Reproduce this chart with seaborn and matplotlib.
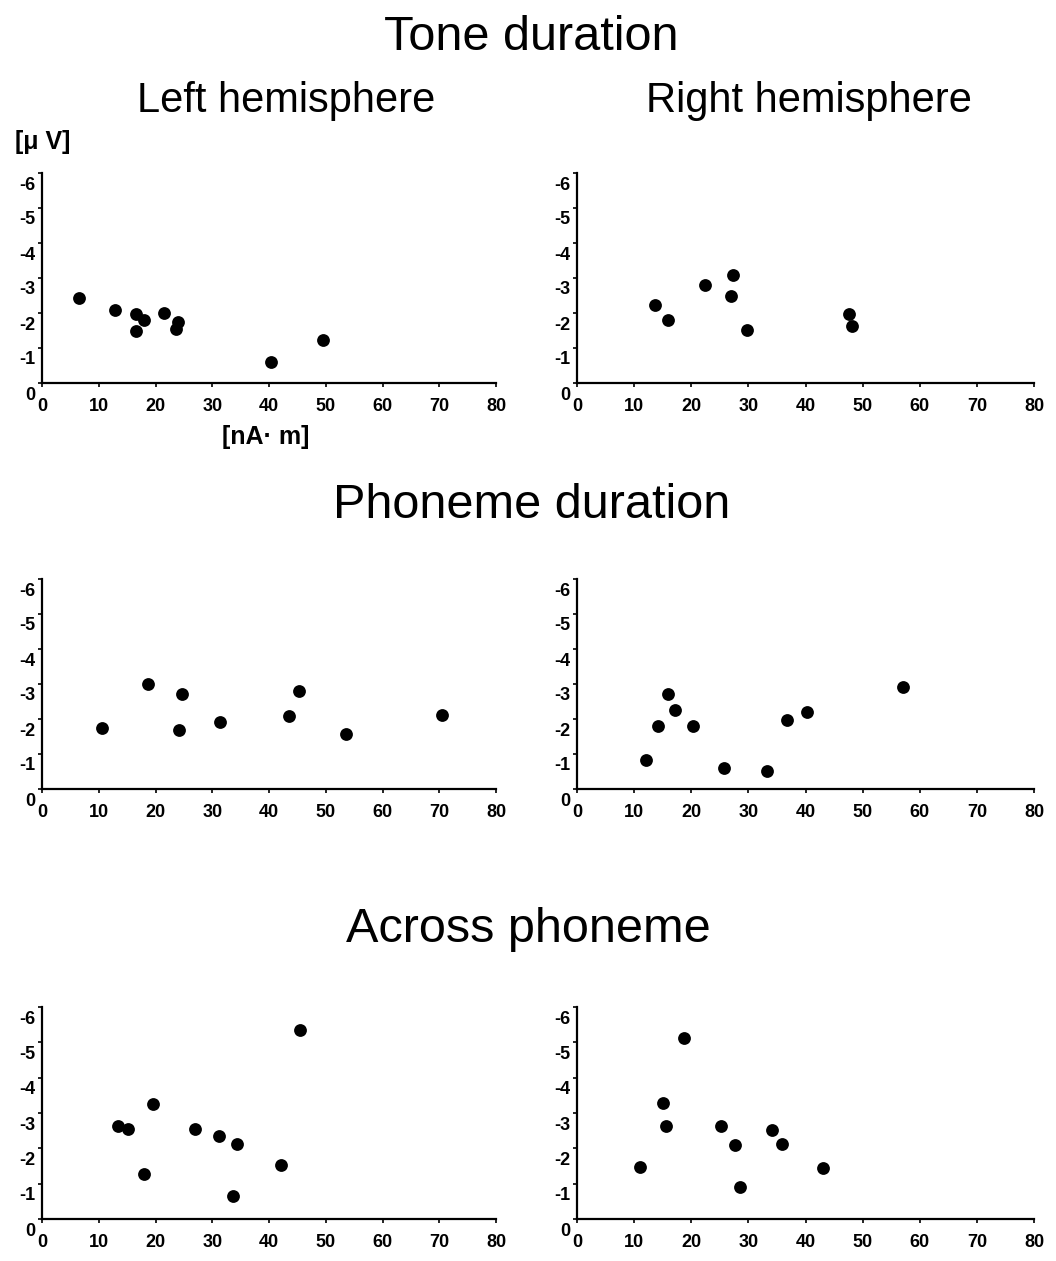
import pandas as pd
import numpy as np
import seaborn as sns
import matplotlib.pyplot as plt
from matplotlib.transforms import ScaledTranslation

# --- DATA ---
# x: dipole moment [nA·m], y: MMN amplitude [uV]
tone_left_x = [6.5, 12.9, 16.6, 17.9, 16.6, 21.5, 24.0, 23.6, 40.3, 49.5]
tone_left_y = [-2.43, -2.08, -1.98, -1.81, -1.50, -1.99, -1.73, -1.55, -0.59, -1.22]
tone_right_x = [13.7, 15.9, 22.4, 27.3, 27.0, 29.8, 47.6, 48.2]
tone_right_y = [-2.23, -1.81, -2.81, -3.10, -2.48, -1.51, -1.96, -1.62]

phon_left_x = [10.6, 18.7, 24.6, 24.2, 31.4, 43.5, 45.2, 53.5, 70.5]
phon_left_y = [-1.73, -2.99, -2.72, -1.70, -1.91, -2.09, -2.80, -1.56, -2.11]
phon_right_x = [12.1, 14.2, 16.0, 17.2, 20.3, 25.7, 33.2, 36.7, 40.2, 57.0]
phon_right_y = [-0.84, -1.79, -2.72, -2.26, -1.79, -0.61, -0.52, -1.96, -2.20, -2.92]

across_left_x = [13.4, 15.1, 17.9, 19.6, 27.0, 31.2, 33.6, 34.4, 42.2, 45.4]
across_left_y = [-2.62, -2.55, -1.27, -3.25, -2.55, -2.36, -0.65, -2.12, -1.52, -5.36]
across_right_x = [11.0, 15.0, 15.5, 18.7, 25.2, 27.7, 28.5, 34.1, 35.8, 43.0]
across_right_y = [-1.48, -3.29, -2.64, -5.11, -2.63, -2.10, -0.90, -2.52, -2.13, -1.43]

row_titles = ["Tone duration", "Phoneme duration", "Across phoneme"]
col_titles = ["Left hemisphere", "Right hemisphere"]
x_ticks = [0, 10, 20, 30, 40, 50, 60, 70, 80]
y_ticks = [0, -1, -2, -3, -4, -5, -6]

panels = [
    [(tone_left_x, tone_left_y), (tone_right_x, tone_right_y)],
    [(phon_left_x, phon_left_y), (phon_right_x, phon_right_y)],
    [(across_left_x, across_left_y), (across_right_x, across_right_y)],
]

# --- STYLE ---
sns.set_style("ticks")
plt.rcParams['font.family'] = ['Liberation Sans', 'DejaVu Sans']
plt.rcParams['axes.unicode_minus'] = False
plt.rcParams['text.color'] = 'black'

W, H = 1056, 1261
fig = plt.figure(figsize=(W / 100, H / 100), dpi=100)

# axes boxes in pixels: (left, right) per column, (top, bottom) per row
col_px = [(42, 496), (577, 1034)]
row_px = [(173, 383), (579, 789), (1007, 1219)]

for r, (top, bottom) in enumerate(row_px):
    for c, (left, right) in enumerate(col_px):
        ax = fig.add_axes([left / W, 1 - bottom / H, (right - left) / W, (bottom - top) / H])
        xs, ys = panels[r][c]
        df = pd.DataFrame({'dipole': xs, 'amp': ys})
        sns.scatterplot(data=df, x='dipole', y='amp', ax=ax, color='black',
                        s=85, edgecolor='black', linewidth=0, clip_on=False)
        ax.set_xlim(0, 80)
        ax.set_ylim(0, -6)
        ax.set_xticks(x_ticks)
        ax.set_yticks(y_ticks)
        ax.set_xlabel('')
        ax.set_ylabel('')
        sns.despine(ax=ax)
        for side in ['left', 'bottom']:
            ax.spines[side].set_linewidth(1.6)
            ax.spines[side].set_color('black')
        ax.tick_params(axis='both', length=3, width=1.2, direction='out',
                       labelsize=13, colors='black')
        ax.tick_params(axis='x', pad=8)
        ax.tick_params(axis='y', pad=2)
        for lab in ax.get_xticklabels() + ax.get_yticklabels():
            lab.set_fontweight('bold')
            lab.set_color('black')
        # y labels sit a bit below their ticks in the original
        for lab in ax.get_yticklabels():
            lab.set_transform(lab.get_transform() + ScaledTranslation(0, -0.1, fig.dpi_scale_trans))

# --- TEXT ---
title_base = [50, 518, 942]
title_cx = [531, 532, 528]
for t, yb, cx in zip(row_titles, title_base, title_cx):
    fig.text(cx / W, 1 - yb / H, t, ha='center', va='baseline', fontsize=35, color='black')

fig.text(286 / W, 1 - 112 / H, col_titles[0], ha='center', va='baseline', fontsize=30, color='black')
fig.text(809 / W, 1 - 112 / H, col_titles[1], ha='center', va='baseline', fontsize=30, color='black')

fig.text(43 / W, 1 - 142 / H, "[μ V]", ha='center', va='center', fontsize=18,
         fontweight='bold', color='black')
fig.text(266 / W, 1 - 437 / H, "[nA· m]", ha='center', va='center', fontsize=18,
         fontweight='bold', color='black')

fig.savefig('out.png', dpi=100)
